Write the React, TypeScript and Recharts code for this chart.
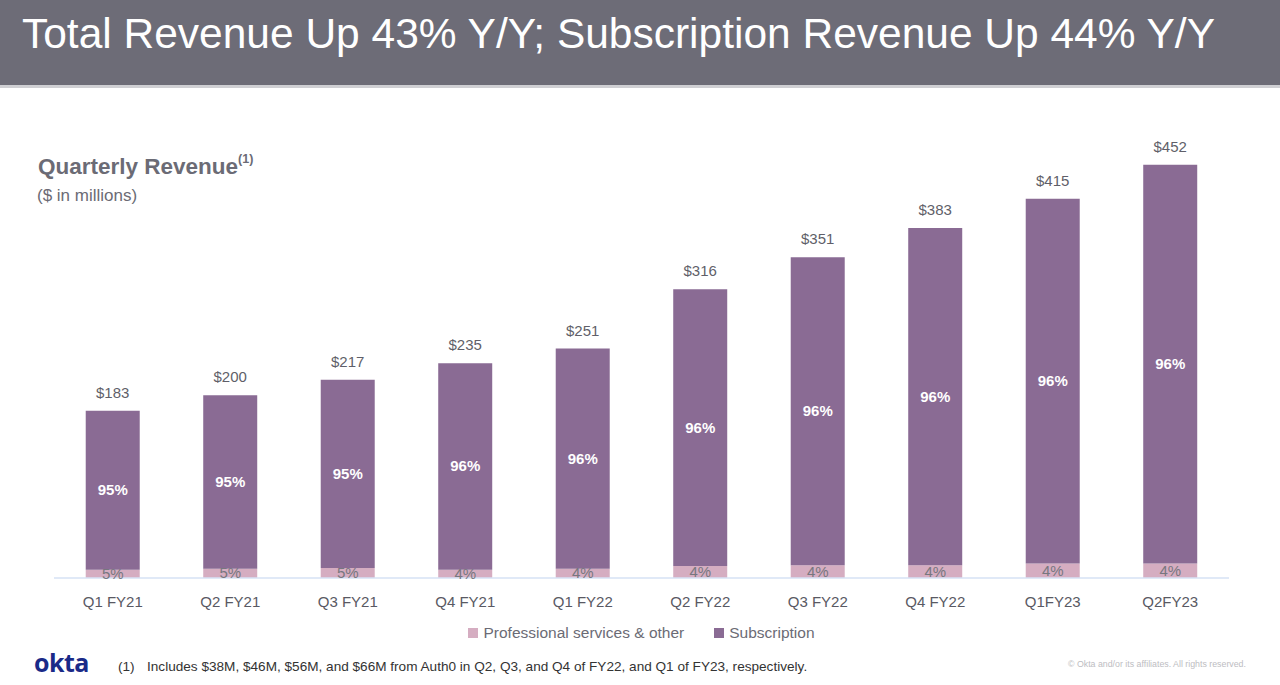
import React from "react";
import { BarChart, Bar, XAxis, YAxis, Legend, LabelList } from "recharts";

const categories = ["Q1 FY21", "Q2 FY21", "Q3 FY21", "Q4 FY21", "Q1 FY22", "Q2 FY22", "Q3 FY22", "Q4 FY22", "Q1FY23", "Q2FY23"];
const professional = [9, 10, 11, 9, 10, 13, 14, 14, 16, 16];
const subscription = [174, 190, 206, 226, 241, 303, 337, 369, 399, 436];
const totals = [183, 200, 217, 235, 251, 316, 351, 383, 415, 452];
const subPct = ["95%", "95%", "95%", "96%", "96%", "96%", "96%", "96%", "96%", "96%"];
const psPct = ["5%", "5%", "5%", "4%", "4%", "4%", "4%", "4%", "4%", "4%"];

const data = categories.map((c, i) => ({
  name: c,
  professional: professional[i],
  subscription: subscription[i],
  total: totals[i],
  subPct: subPct[i],
  psPct: psPct[i],
}));

const PURPLE = "#8a6b94";
const PINK = "#d5adc1";
const GRAY = "#6b6b75";
const FONT = "'Liberation Sans', Arial, Helvetica, sans-serif";

const TotalLabel = (props: any) => {
  const { x, y, width, index } = props;
  return (
    <text x={x + width / 2} y={y - 13} textAnchor="middle" fill="#5f5f69" fontSize={15} fontFamily={FONT}>
      {"$" + totals[index]}
    </text>
  );
};

const SubPctLabel = (props: any) => {
  const { x, y, width, height, index } = props;
  return (
    <text x={x + width / 2} y={y + height / 2} dy={5} textAnchor="middle" fill="#ffffff" fontSize={15} fontWeight="bold" fontFamily={FONT}>
      {subPct[index]}
    </text>
  );
};

const PsPctLabel = (props: any) => {
  const { x, y, width, height, index } = props;
  return (
    <text x={x + width / 2} y={y + height / 2} dy={5} textAnchor="middle" fill="#77777f" fontSize={15} fontFamily={FONT}>
      {psPct[index]}
    </text>
  );
};

const LegendContent = () => (
  <div style={{ display: "flex", justifyContent: "center", gap: 30, fontFamily: FONT, fontSize: 15.5, color: GRAY, paddingTop: 1 }}>
    <span style={{ display: "flex", alignItems: "center" }}>
      <span style={{ width: 10, height: 10, background: PINK, display: "inline-block", marginRight: 5 }} />
      Professional services &amp; other
    </span>
    <span style={{ display: "flex", alignItems: "center" }}>
      <span style={{ width: 10, height: 10, background: PURPLE, display: "inline-block", marginRight: 5 }} />
      Subscription
    </span>
  </div>
);

export default function App() {
  return (
    <div style={{ position: "absolute", left: 0, top: 0, width: 1280, height: 685, background: "#fff", overflow: "hidden", fontFamily: FONT }}>
      <div style={{ position: "absolute", left: 0, top: 0, width: 1280, height: 85, background: "#6d6c77" }} />
      <div style={{ position: "absolute", left: 0, top: 85, width: 1280, height: 3, background: "#cfcfd3" }} />
      <svg style={{ position: "absolute", left: 0, top: 0 }} width={1280} height={85}>
        <text x={22} y={48} fill="#ffffff" fontSize={42} fontFamily={FONT} textLength={1193} lengthAdjust="spacingAndGlyphs">
          Total Revenue Up 43% Y/Y; Subscription Revenue Up 44% Y/Y
        </text>
      </svg>
      <div style={{ position: "absolute", left: 38, top: 154, fontSize: 22.5, fontWeight: "bold", color: GRAY, whiteSpace: "nowrap" }}>
        Quarterly Revenue<sup style={{ fontSize: 12.5, verticalAlign: "top", position: "relative", top: -2 }}>(1)</sup>
      </div>
      <div style={{ position: "absolute", left: 37, top: 186, fontSize: 17, color: GRAY }}>($ in millions)</div>

      <div style={{ position: "absolute", left: 0, top: 0 }}>
        <BarChart width={1280} height={685} data={data} margin={{ top: 121, right: 51, left: 54, bottom: 0 }} barCategoryGap="27%">
          <XAxis
            dataKey="name"
            axisLine={{ stroke: "#d6e2f5", strokeWidth: 1.5 }}
            tickLine={false}
            tick={{ fill: "#595963", fontSize: 15, fontFamily: FONT }}
            tickMargin={12}
            height={45}
            interval={0}
          />
          <YAxis hide domain={[0, 500]} />
          <Legend verticalAlign="bottom" wrapperStyle={{ height: 62 }} content={<LegendContent />} />
          <Bar dataKey="professional" name="Professional services & other" stackId="a" fill={PINK} isAnimationActive={false}>
            <LabelList dataKey="psPct" content={<PsPctLabel />} />
          </Bar>
          <Bar dataKey="subscription" name="Subscription" stackId="a" fill={PURPLE} isAnimationActive={false}>
            <LabelList dataKey="subPct" content={<SubPctLabel />} />
            <LabelList dataKey="total" content={<TotalLabel />} />
          </Bar>
        </BarChart>
      </div>

      <div style={{ position: "absolute", left: 34, top: 645, fontSize: 25, fontWeight: "bold", color: "#1a2a88", fontFamily: "'Open Sans', sans-serif", letterSpacing: -0.5 }}>okta</div>
      <div style={{ position: "absolute", left: 118, top: 659, fontSize: 13.6, color: "#333" }}>(1)</div>
      <div style={{ position: "absolute", left: 147, top: 659, fontSize: 13.6, color: "#333", whiteSpace: "nowrap" }}>
        Includes $38M, $46M, $56M, and $66M from Auth0 in Q2, Q3, and Q4 of FY22, and Q1 of FY23, respectively.
      </div>
      <div style={{ position: "absolute", left: 1068, top: 659, fontSize: 8.8, color: "#bdbdc2", whiteSpace: "nowrap" }}>
        © Okta and/or its affiliates. All rights reserved.
      </div>
    </div>
  );
}
